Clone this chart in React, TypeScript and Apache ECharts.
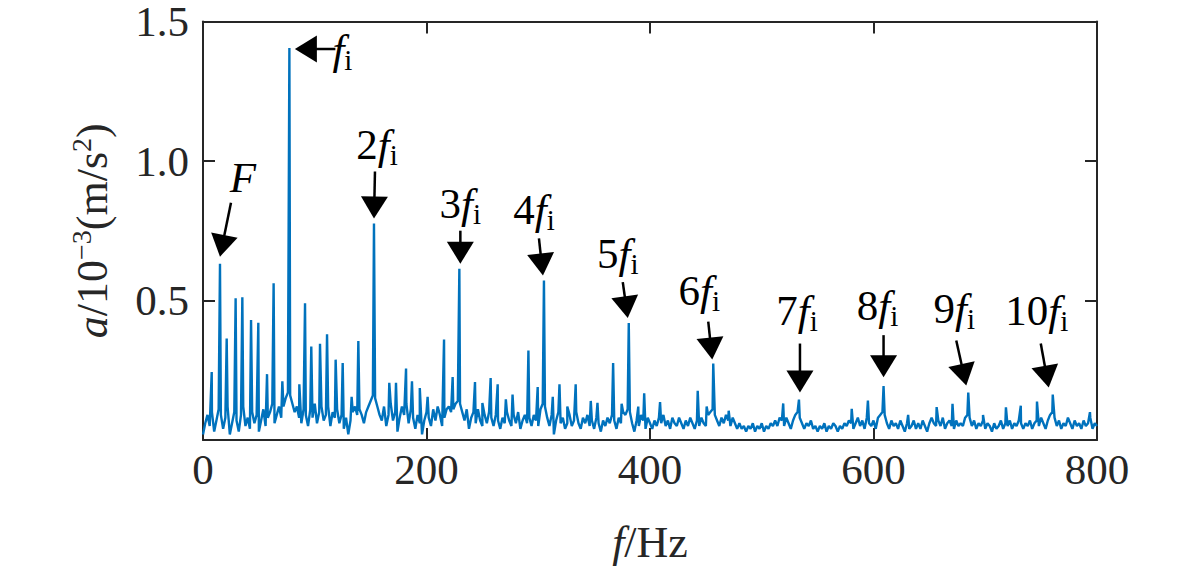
import React, { useEffect, useRef } from 'react';
import * as echarts from 'echarts';

// ---------- data (amplitude in 10^-3 m/s^2, frequency in Hz) ----------
const X_MIN = 0;
const X_MAX = 800;
const X_STEP = 200;
const Y_MIN = 0;
const Y_MAX = 1.5;
const Y_STEP = 0.5;

// noise floor sampled every 2 Hz, 0..800 Hz
const NOISE_STEP_HZ = 2;
const NOISE = [
  0.02, 0.06, 0.09, 0.05, 0.10, 0.03, 0.07, 0.11, 0.09, 0.04, 0.08, 0.12, 0.02, 0.06, 0.10, 0.07, 0.03, 0.09, 0.12, 0.05,
  0.08, 0.04, 0.10, 0.06, 0.09, 0.03, 0.07, 0.11, 0.05, 0.08, 0.10, 0.13, 0.06, 0.09, 0.12, 0.08, 0.12, 0.15, 0.17, 0.16,
  0.13, 0.10, 0.12, 0.08, 0.06, 0.11, 0.09, 0.05, 0.11, 0.08, 0.13, 0.06, 0.10, 0.12, 0.07, 0.09, 0.12, 0.05, 0.10, 0.08,
  0.11, 0.06, 0.09, 0.04, 0.08, 0.02, 0.07, 0.10, 0.12, 0.09, 0.11, 0.09, 0.06, 0.10, 0.12, 0.14, 0.16, 0.15, 0.12, 0.09,
  0.07, 0.12, 0.05, 0.09, 0.13, 0.07, 0.10, 0.03, 0.08, 0.12, 0.09, 0.13, 0.06, 0.11, 0.08, 0.04, 0.09, 0.06, 0.02, 0.07,
  0.10, 0.08, 0.05, 0.11, 0.07, 0.12, 0.09, 0.05, 0.08, 0.11, 0.12, 0.10, 0.11, 0.13, 0.14, 0.13, 0.10, 0.07, 0.11, 0.04,
  0.08, 0.10, 0.06, 0.11, 0.07, 0.05, 0.09, 0.06, 0.10, 0.08, 0.05, 0.09, 0.07, 0.04, 0.08, 0.06, 0.10, 0.07, 0.05, 0.09,
  0.06, 0.10, 0.04, 0.07, 0.09, 0.06, 0.08, 0.05, 0.09, 0.07, 0.05, 0.11, 0.13, 0.12, 0.08, 0.05, 0.09, 0.02, 0.07, 0.10,
  0.06, 0.08, 0.04, 0.06, 0.09, 0.05, 0.07, 0.10, 0.06, 0.04, 0.08, 0.06, 0.09, 0.05, 0.07, 0.04, 0.08, 0.06, 0.03, 0.07,
  0.05, 0.08, 0.06, 0.09, 0.07, 0.04, 0.08, 0.06, 0.10, 0.09, 0.11, 0.10, 0.06, 0.03, 0.07, 0.05, 0.09, 0.07, 0.04, 0.08,
  0.06, 0.04, 0.07, 0.05, 0.08, 0.06, 0.09, 0.05, 0.07, 0.04, 0.08, 0.06, 0.05, 0.08, 0.06, 0.04, 0.07, 0.05, 0.08, 0.06,
  0.04, 0.07, 0.05, 0.08, 0.06, 0.05, 0.09, 0.10, 0.11, 0.09, 0.07, 0.05, 0.08, 0.06, 0.09, 0.07, 0.05, 0.08, 0.06, 0.04,
  0.06, 0.04, 0.05, 0.03, 0.05, 0.04, 0.06, 0.03, 0.05, 0.04, 0.06, 0.03, 0.05, 0.04, 0.06, 0.05, 0.07, 0.05, 0.08, 0.07,
  0.05, 0.08, 0.06, 0.04, 0.07, 0.09, 0.10, 0.08, 0.06, 0.04, 0.06, 0.05, 0.07, 0.04, 0.05, 0.03, 0.05, 0.04, 0.06, 0.03,
  0.05, 0.04, 0.06, 0.05, 0.03, 0.05, 0.04, 0.06, 0.05, 0.07, 0.06, 0.04, 0.06, 0.08, 0.05, 0.07, 0.04, 0.08, 0.06, 0.05,
  0.07, 0.04, 0.08, 0.09, 0.10, 0.09, 0.06, 0.04, 0.07, 0.05, 0.06, 0.04, 0.07, 0.05, 0.03, 0.06, 0.04, 0.05, 0.07, 0.04,
  0.06, 0.04, 0.07, 0.05, 0.03, 0.06, 0.08, 0.06, 0.05, 0.07, 0.05, 0.08, 0.04, 0.06, 0.07, 0.05, 0.04, 0.07, 0.05, 0.06,
  0.05, 0.08, 0.09, 0.08, 0.05, 0.07, 0.04, 0.06, 0.05, 0.07, 0.04, 0.06, 0.05, 0.03, 0.06, 0.04, 0.05, 0.07, 0.04, 0.06,
  0.05, 0.07, 0.04, 0.06, 0.05, 0.07, 0.06, 0.04, 0.06, 0.05, 0.07, 0.04, 0.06, 0.07, 0.05, 0.08, 0.06, 0.04, 0.07, 0.09,
  0.10, 0.08, 0.05, 0.07, 0.04, 0.06, 0.05, 0.08, 0.06, 0.04, 0.07, 0.05, 0.06, 0.04, 0.07, 0.05, 0.06, 0.08, 0.04, 0.06,
  0.05,
];

// spectral peaks
const PEAK_FREQ = [
  7.8, 15.2, 21.2, 29.2, 35.2, 43, 49.5, 57.3, 63.2, 71, 77.3, 86.2, 91.3, 96.9, 104.7, 111, 118.7, 125, 133, 139,
  153, 166.7, 172.7, 181.7, 187, 194, 201, 215.7, 223.4, 229.4, 243.4, 250, 257.4, 263.7, 271, 277, 291.2, 299.5,
  305.1, 313, 319, 326, 333.5, 347, 353, 367, 374.6, 381, 389.5, 394.8, 409, 442.7, 450.7, 456.6, 470.4, 519.2,
  533.3, 580.5, 595, 609, 631, 656.5, 670.7, 684.8, 698, 718.5, 731.8, 746.3, 760.4, 793.7,
];
const PEAK_AMP = [
  0.244, 0.632, 0.364, 0.508, 0.512, 0.43, 0.42, 0.236, 0.562, 0.21, 1.405, 0.2, 0.49, 0.335, 0.345, 0.379, 0.288, 0.276, 0.155, 0.355,
  0.776, 0.205, 0.205, 0.256, 0.21, 0.186, 0.155, 0.36, 0.226, 0.614, 0.208, 0.133, 0.222, 0.2, 0.146, 0.163, 0.321, 0.19,
  0.572, 0.155, 0.2, 0.12, 0.2, 0.14, 0.133, 0.276, 0.13, 0.419, 0.12, 0.167, 0.136, 0.176, 0.12, 0.274, 0.105, 0.131,
  0.145, 0.112, 0.141, 0.193, 0.09, 0.118, 0.13, 0.17, 0.09, 0.117, 0.123, 0.138, 0.163, 0.1,
];

// annotated peaks
const ANN_FREQ = [15.2, 77.3, 153, 229.4, 305.1, 381, 456.6, 533.3, 609, 684.8, 760.4];
const ANN_PREFIX = ['', '', '2', '3', '4', '5', '6', '7', '8', '9', '10'];
const ANN_SYMBOL = ['F', 'f', 'f', 'f', 'f', 'f', 'f', 'f', 'f', 'f', 'f'];
const ANN_SUB = ['', 'i', 'i', 'i', 'i', 'i', 'i', 'i', 'i', 'i', 'i'];

// ---------- layout / style (pixel offsets from each annotated peak) ----------
const ANN_LAYOUT = [
  { lx: 23, lb: -71, align: 'center', sx: 11, sy: -61, tx: 0, ty: -7 },
  { lx: 43, lb: 16, align: 'left', sx: 46, sy: 1, tx: 5.5, ty: 1 },
  { lx: 3, lb: -64, align: 'center', sx: 1, sy: -52, tx: 0, ty: -5 },
  { lx: 1, lb: -50, align: 'center', sx: 1, sy: -38, tx: 1, ty: -5 },
  { lx: -10, lb: -56, align: 'center', sx: -5, sy: -42, tx: -1, ty: -5 },
  { lx: -11, lb: -55, align: 'center', sx: -6, sy: -41, tx: -1, ty: -5 },
  { lx: -14, lb: -58, align: 'center', sx: -5, sy: -42, tx: -1, ty: -4 },
  { lx: -2, lb: -74, align: 'center', sx: 1, sy: -56, tx: 1, ty: -7 },
  { lx: -6, lb: -66, align: 'center', sx: 0, sy: -51, tx: 0, ty: -9 },
  { lx: -14, lb: -69, align: 'center', sx: -12, sy: -52, tx: -2, ty: -7 },
  { lx: -16, lb: -69, align: 'center', sx: -12, sy: -51, tx: -4, ty: -7 },
];

const FONT = "'Liberation Serif', 'Times New Roman', serif";
const FS = 43;
const FS_TITLE = 44;
const TEXT_COLOR = '#262626';
const LINE_COLOR = '#0072BD';
const HEAD_LEN = 22;
const HEAD_HALF = 13.5;

const RICH = {
  n: { fontFamily: FONT, fontSize: FS, lineHeight: 50, color: '#000', fill: '#000' },
  it: { fontFamily: FONT, fontSize: FS, fontStyle: 'italic', lineHeight: 50, color: '#000', fill: '#000' },
  sub: { fontFamily: FONT, fontSize: 29, lineHeight: 29, verticalAlign: 'bottom', color: '#000', fill: '#000' },
};

function buildSeries(): number[][] {
  const pts: number[][] = NOISE.map((v, i) => [i * NOISE_STEP_HZ, v]);
  PEAK_FREQ.forEach((f, i) => pts.push([f, PEAK_AMP[i]]));
  pts.sort((a, b) => a[0] - b[0]);
  return pts;
}

export default function App() {
  const ref = useRef<HTMLDivElement>(null);

  useEffect(() => {
    if (!ref.current) return;
    const chart = echarts.init(ref.current, undefined, { renderer: 'svg' });

    const axisLine = { show: true, onZero: false, lineStyle: { color: TEXT_COLOR, width: 2 } };
    const axisTick = { show: true, inside: true, length: 12, lineStyle: { color: TEXT_COLOR, width: 2 } };
    const labelStyle = { fontFamily: FONT, fontSize: FS, color: TEXT_COLOR, lineHeight: 34 };

    chart.setOption({
      animation: false,
      backgroundColor: '#ffffff',
      grid: { left: 203, top: 20, width: 894, height: 420, containLabel: false },
      xAxis: [
        {
          type: 'value', min: X_MIN, max: X_MAX, interval: X_STEP, position: 'bottom',
          axisLine, axisTick, splitLine: { show: false },
          axisLabel: { ...labelStyle, margin: 12 },
          name: '{it|f}{n|/Hz}', nameLocation: 'middle', nameGap: 80,
          nameTextStyle: {
            rich: {
              it: { fontFamily: FONT, fontSize: FS_TITLE, fontStyle: 'italic', color: TEXT_COLOR },
              n: { fontFamily: FONT, fontSize: FS_TITLE, color: TEXT_COLOR },
            },
          },
        },
        {
          type: 'value', min: X_MIN, max: X_MAX, interval: X_STEP, position: 'top',
          axisLine, axisTick, splitLine: { show: false }, axisLabel: { show: false },
        },
      ],
      yAxis: [
        {
          type: 'value', min: Y_MIN, max: Y_MAX, interval: Y_STEP, position: 'left',
          axisLine, axisTick, splitLine: { show: false },
          axisLabel: { ...labelStyle, margin: 14, formatter: (v: number) => (v === 0 ? '' : v.toFixed(1)) },
          name: '{it|a}{n|/10}{sup|−3}{n|(m/s}{sup|2}{n|)}', nameLocation: 'middle', nameGap: 86,
          nameTextStyle: {
            rich: {
              it: { fontFamily: FONT, fontSize: FS_TITLE, fontStyle: 'italic', color: TEXT_COLOR, lineHeight: 50 },
              n: { fontFamily: FONT, fontSize: FS_TITLE, color: TEXT_COLOR, lineHeight: 50 },
              sup: { fontFamily: FONT, fontSize: 28, color: TEXT_COLOR, lineHeight: 28, verticalAlign: 'top' },
            },
          },
        },
        {
          type: 'value', min: Y_MIN, max: Y_MAX, interval: Y_STEP, position: 'right',
          axisLine, axisTick, splitLine: { show: false }, axisLabel: { show: false },
        },
      ],
      series: [
        {
          type: 'line',
          data: buildSeries(),
          showSymbol: false,
          symbol: 'none',
          lineStyle: { color: LINE_COLOR, width: 2.4 },
          itemStyle: { color: LINE_COLOR },
          xAxisIndex: 0,
          yAxisIndex: 0,
          silent: true,
        },
      ],
    });

    const elements: any[] = [];
    ANN_FREQ.forEach((f, i) => {
      const a = PEAK_AMP[PEAK_FREQ.indexOf(f)];
      const p = chart.convertToPixel({ xAxisIndex: 0, yAxisIndex: 0 }, [f, a]) as number[];
      const px = p[0];
      const py = p[1];
      const L = ANN_LAYOUT[i];
      const sx = px + L.sx, sy = py + L.sy, tx = px + L.tx, ty = py + L.ty;
      const dx = tx - sx, dy = ty - sy;
      const len = Math.hypot(dx, dy);
      const ux = dx / len, uy = dy / len;
      const bx = tx - ux * HEAD_LEN, by = ty - uy * HEAD_LEN;
      const nx = -uy, ny = ux;
      elements.push({
        type: 'line', silent: true,
        shape: { x1: sx, y1: sy, x2: bx + ux * 2, y2: by + uy * 2 },
        style: { stroke: '#000', lineWidth: 2.5 },
      });
      elements.push({
        type: 'polygon', silent: true,
        shape: { points: [[tx, ty], [bx + nx * HEAD_HALF, by + ny * HEAD_HALF], [bx - nx * HEAD_HALF, by - ny * HEAD_HALF]] },
        style: { fill: '#000' },
      });
      let text = '';
      if (ANN_PREFIX[i]) text += `{n|${ANN_PREFIX[i]}}`;
      text += `{it|${ANN_SYMBOL[i]}}`;
      if (ANN_SUB[i]) text += `{sub|${ANN_SUB[i]}}`;
      elements.push({
        type: 'text', silent: true,
        x: px + L.lx, y: py + L.lb + 10,
        style: {
          text, rich: RICH, align: L.align, verticalAlign: 'bottom',
          fontFamily: FONT, fontSize: FS, fill: '#000',
        },
      });
    });
    chart.setOption({ graphic: elements });

    return () => chart.dispose();
  }, []);

  return (
    <div
      ref={ref}
      style={{ position: 'fixed', left: 0, top: 0, width: 1181, height: 569, background: '#fff' }}
    />
  );
}
